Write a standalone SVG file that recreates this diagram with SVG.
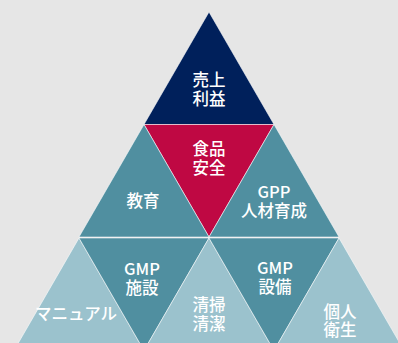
<svg xmlns="http://www.w3.org/2000/svg" width="398" height="343" viewBox="0 0 398 343">
<style>
.t{stroke:#ffffff;stroke-opacity:0.55;stroke-width:1;stroke-linejoin:miter}
.navy{fill:#00205b}
.red{fill:#bf0843}
.teal{fill:#508fa0}
.light{fill:#9bc2cd}
text{font-family:"Noto Sans CJK JP","Noto Sans",sans-serif;font-size:16.5px;font-weight:500;fill:#ffffff;text-anchor:middle}
</style>
<rect width="398" height="343" fill="#e6e6e6"/>
<g id="connectors"/>
<g id="uriage"><polygon class="t navy" points="209,12 274,124.5 144,124.5"/><text x="209" y="86">売上</text><text x="209" y="104.5">利益</text></g>
<g id="shokuhin"><polygon class="t red" points="144,124.5 274,124.5 209,237"/><text x="209" y="155">食品</text><text x="209" y="173.5">安全</text></g>
<g id="kyoiku"><polygon class="t teal" points="144,124.5 209,237 79,237"/><text x="143" y="207">教育</text></g>
<g id="gpp"><polygon class="t teal" points="274,124.5 339,237 209,237"/><text x="274" y="198">GPP</text><text x="274" y="217">人材育成</text></g>
<g id="manual"><polygon class="t light" points="79,238 144,350.5 14,350.5"/><text x="76" y="320">マニュアル</text></g>
<g id="gmp-shisetsu"><polygon class="t teal" points="79,238 209,238 144,350.5"/><text x="142" y="275">GMP</text><text x="142" y="293.5">施設</text></g>
<g id="seiso"><polygon class="t light" points="209,238 274,350.5 144,350.5"/><text x="209" y="311">清掃</text><text x="209" y="329.5">清潔</text></g>
<g id="gmp-setsubi"><polygon class="t teal" points="209,238 339,238 274,350.5"/><text x="275" y="274">GMP</text><text x="275" y="292.5">設備</text></g>
<g id="kojin"><polygon class="t light" points="339,238 404,350.5 274,350.5"/><text x="340" y="318">個人</text><text x="340" y="336">衛生</text></g>
</svg>
